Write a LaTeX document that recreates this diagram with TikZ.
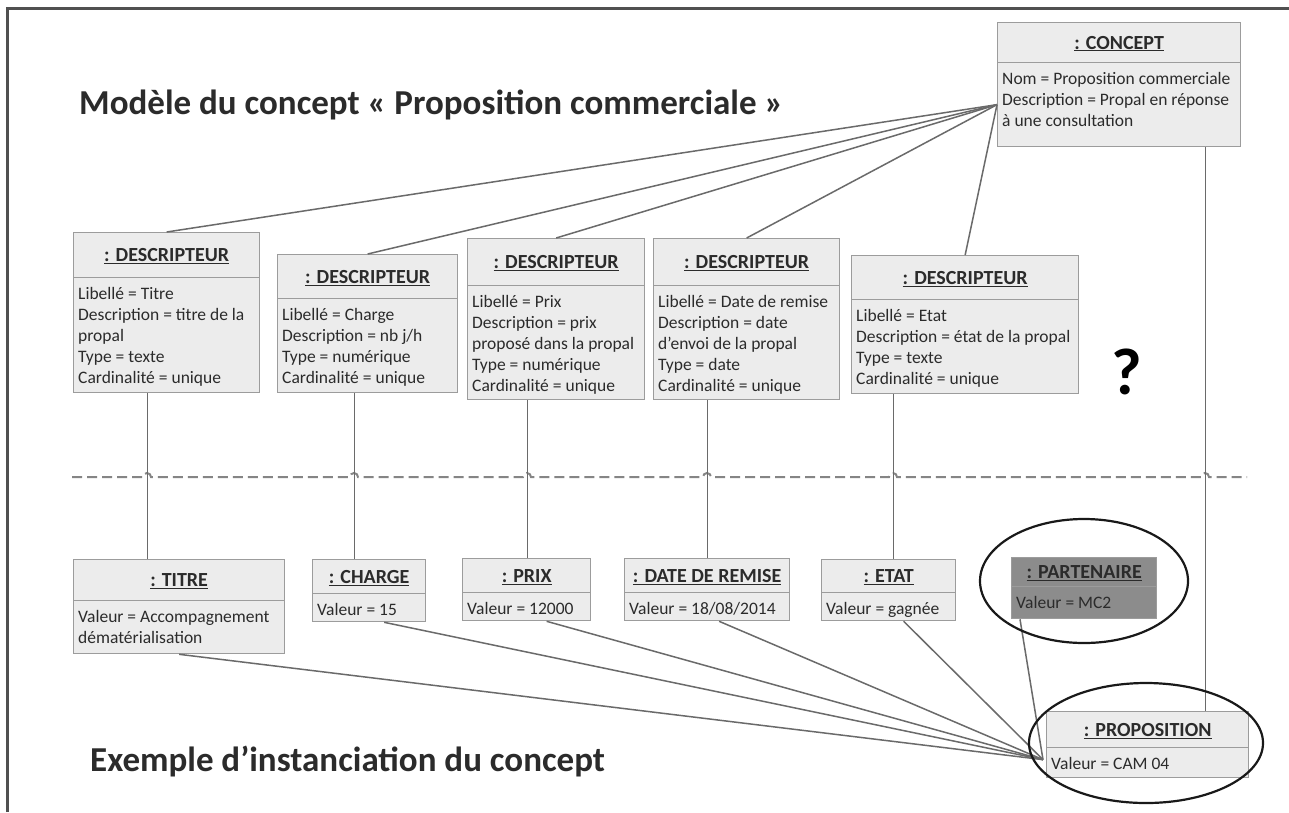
\documentclass[tikz,border=0pt]{standalone}
\usepackage{fontspec}
\setmainfont{Carlito}
\usetikzlibrary{calc}
\definecolor{boxfill}{HTML}{ECECEC}
\definecolor{boxline}{HTML}{9C9C9C}
\definecolor{txt}{HTML}{2B2B2B}
\definecolor{conn}{HTML}{6A6A6A}
\definecolor{darkfill}{HTML}{8C8C8C}
\definecolor{darkline}{HTML}{7A7A7A}
\definecolor{framec}{HTML}{505050}
\definecolor{dashc}{HTML}{858585}
\newcommand\bstrut{\rule{0pt}{14pt}}
% name, x1, x2, top, divider, bottom, header, body, fill
\newcommand\objbox[9]{%
  \pgfmathsetmacro\bw{#3-#2}%
  \pgfmathsetmacro\hh{#5-#4}%
  \pgfmathsetmacro\bh{#6-#5}%
  \node[boxshape, fill=#9, minimum width=\bw pt, minimum height=\hh pt] (#1h) at (#2,#4) {};
  \node[boxshape, fill=#9, minimum width=\bw pt, minimum height=\bh pt] (#1b) at (#2,#5) {};
  \node[hdtext] (#1ht) at ([shift={(0,6.5)}]#1h.center) {\underline{#7}};
  \node[bdtext] (#1t) at ([shift={(5,8)}]#1b.north west) {\bstrut #8};
}
\begin{document}
\begin{tikzpicture}[x=1pt,y=-1pt,
  boxshape/.style={draw=boxline, line width=1.3pt, anchor=north west, inner sep=0pt},
  hdtext/.style={anchor=base, inner sep=0pt, text=txt, font=\fontsize{20}{24}\selectfont\bfseries},
  bdtext/.style={anchor=north west, inner sep=0pt, text=txt, align=left, font=\fontsize{17.5}{21}\selectfont},
  connline/.style={draw=conn, line width=1.5pt},
  dashline/.style={draw=dashc, line width=2pt, dash pattern=on 10pt off 5pt},
  ringline/.style={draw=black!90, line width=2.2pt},
  bigtitle/.style={anchor=base west, inner sep=0pt, text=txt, font=\fontsize{35}{42}\selectfont\bfseries}
]
\useasboundingbox (0,0) rectangle (1289,812);
\fill[white] (0,0) rectangle (1289,812);
\draw[framec, line width=3pt] (7,812) -- (7,8) -- (1289,8);

\node[bigtitle] (title1) at (79,114) {Modèle du concept « Proposition commerciale »};
\node[bigtitle] (title2) at (90,771) {Exemple d’instanciation du concept};
\node[inner sep=0pt, text=black, font=\fontsize{66}{70}\selectfont\bfseries] (qmark) at (1127,372) {?};

% dashed separator with line jumps
\draw[dashline] (72,477) foreach \xx in {147,354,527,707,893,1205} { -- (\xx-4,477) arc[start angle=180,end angle=360,radius=4] } -- (1247,477);

% boxes
\objbox{concept}{997}{1240}{22}{62}{146}{: CONCEPT}{Nom = Proposition commerciale\\Description = Propal en réponse\\à une consultation}{boxfill}
\objbox{da}{73}{259}{232}{277}{392}{: DESCRIPTEUR}{Libellé = Titre\\Description = titre de la\\propal\\Type = texte\\Cardinalité = unique}{boxfill}
\objbox{db}{277}{457}{254}{298}{392}{: DESCRIPTEUR}{Libellé = Charge\\Description = nb j/h\\Type = numérique\\Cardinalité = unique}{boxfill}
\objbox{dc}{467}{644}{238}{285}{399}{: DESCRIPTEUR}{Libellé = Prix\\Description = prix\\proposé dans la propal\\Type = numérique\\Cardinalité = unique}{boxfill}
\objbox{dd}{653}{839}{238}{285}{399}{: DESCRIPTEUR}{Libellé = Date de remise\\Description = date\\d’envoi de la propal\\Type = date\\Cardinalité = unique}{boxfill}
\objbox{de}{851}{1078}{255}{299}{393}{: DESCRIPTEUR}{Libellé = Etat\\Description = état de la propal\\Type = texte\\Cardinalité = unique}{boxfill}

\objbox{titre}{73}{284}{559}{600}{653}{: TITRE}{Valeur = Accompagnement\\dématérialisation}{boxfill}
\objbox{charge}{312}{425}{559}{593}{621}{: CHARGE}{Valeur = 15}{boxfill}
\objbox{prix}{462}{590}{558}{592}{620}{: PRIX}{Valeur = 12000}{boxfill}
\objbox{date}{624}{789}{558}{592}{620}{: DATE DE REMISE}{Valeur = 18/08/2014}{boxfill}
\objbox{etat}{821}{955}{559}{592}{620}{: ETAT}{Valeur = gagnée}{boxfill}
\objbox{part}{1011}{1156}{557}{586}{618}{: PARTENAIRE}{Valeur = MC2}{darkfill}
\objbox{prop}{1046}{1248}{711}{747}{777}{: PROPOSITION}{Valeur = CAM 04}{boxfill}

% concept to descriptors
\foreach \d in {da,db,dc,dd,de} {
  \draw[connline] (conceptb.west) -- (\d h.north);
}
% descriptors to instances
\draw[connline] ([xshift=-19pt]dab.south) -- ([xshift=-19pt]dab.south |- titreh.north);
\draw[connline] ([xshift=-13pt]dbb.south) -- ([xshift=-13pt]dbb.south |- chargeh.north);
\draw[connline] ([xshift=-28.5pt]dcb.south) -- ([xshift=-28.5pt]dcb.south |- prixh.north);
\draw[connline] ([xshift=-39pt]ddb.south) -- ([xshift=-39pt]ddb.south |- dateh.north);
\draw[connline] ([xshift=-71.5pt]deb.south) -- ([xshift=-71.5pt]deb.south |- etath.north);
\draw[connline] ([xshift=86.5pt]conceptb.south) -- ([xshift=86.5pt]conceptb.south |- proph.north);

% instances to proposition
\coordinate (pin) at ([xshift=-3pt,yshift=3pt]propb.west);
\draw[connline] (titreb.south) -- (pin);
\draw[connline] ([xshift=15pt]chargeb.south) -- (pin);
\draw[connline] ([xshift=20pt]prixb.south) -- (pin);
\draw[connline] ([xshift=12pt]dateb.south) -- (pin);
\draw[connline] ([xshift=15pt]etatb.south) -- (pin);
\draw[connline] ([xshift=9pt]partb.south west) -- (pin);

% highlight rings
\draw[ringline] (1084,581) ellipse[x radius=104, y radius=62];
\draw[ringline] (1146,743) ellipse[x radius=117, y radius=60];
\end{tikzpicture}
\end{document}
